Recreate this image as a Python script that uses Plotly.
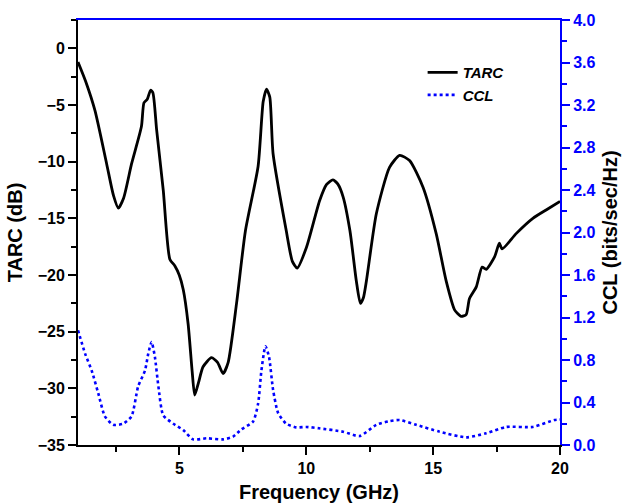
import plotly.graph_objects as go

# ---- data ----
tarc_freq = [1.0, 1.3, 1.67, 2.13, 2.4, 2.59, 2.8, 3.11, 3.5, 3.6, 3.73, 3.86, 3.95, 4.1, 4.36,
             4.62, 4.82, 4.99, 5.15, 5.34, 5.5, 5.6, 5.75, 5.93, 6.26, 6.5, 6.72, 6.92, 7.25,
             7.6, 8.1, 8.3, 8.43, 8.56, 8.69, 9.21, 9.45, 9.64, 10.0, 10.53, 10.8, 11.05, 11.25,
             11.45, 11.72, 11.97, 12.13, 12.25, 12.37, 12.76, 13.28, 13.68, 14.07, 14.6, 15.12,
             15.51, 15.85, 16.1, 16.3, 16.43, 16.7, 16.93, 17.09, 17.42, 17.61, 17.72, 18.27,
             18.93, 19.5, 20.0]
tarc_db = [-1.2, -2.9, -5.5, -10.2, -13.0, -14.1, -13.2, -10.2, -6.9, -4.8, -4.5, -3.7, -3.9,
           -7.2, -12.5, -18.6, -19.2, -20.0, -21.3, -24.3, -28.5, -30.6, -29.5, -28.1, -27.3,
           -27.7, -28.7, -27.7, -22.5, -16.1, -10.4, -4.7, -3.6, -4.3, -9.3, -16.1, -18.8, -19.4,
           -17.6, -13.4, -12.0, -11.6, -12.0, -13.1, -16.1, -20.5, -22.5, -22.0, -20.5, -14.6,
           -10.5, -9.45, -9.9, -12.25, -16.35, -20.5, -23.1, -23.65, -23.5, -22.1, -21.05, -19.3,
           -19.5, -18.4, -17.2, -17.7, -16.35, -15.0, -14.2, -13.5]

ccl_freq = [1.0, 1.28, 1.54, 1.8, 2.06, 2.39, 2.78, 3.11, 3.37, 3.64, 3.77, 3.9, 4.03, 4.17,
            4.36, 4.76, 5.15, 5.54, 6.07, 6.72, 7.11, 7.44, 7.9, 8.1, 8.23, 8.39, 8.53, 8.69,
            8.89, 9.21, 9.6, 10.0, 10.5, 11.45, 12.1, 12.76, 13.28, 13.68, 14.33, 15.25, 16.3,
            17.09, 17.88, 18.93, 19.78, 20.0]
ccl_val = [1.08, 0.86, 0.70, 0.485, 0.27, 0.19, 0.20, 0.27, 0.55, 0.70, 0.86, 0.97, 0.83, 0.55,
           0.28, 0.20, 0.14, 0.053, 0.063, 0.053, 0.078, 0.147, 0.22, 0.39, 0.70, 0.93, 0.83,
           0.52, 0.30, 0.20, 0.166, 0.17, 0.157, 0.125, 0.084, 0.19, 0.225, 0.235, 0.19, 0.125,
           0.072, 0.11, 0.17, 0.17, 0.235, 0.24]

FONT = "Liberation Sans, Arial, sans-serif"
BLUE = "#0000FF"

fig = go.Figure()
fig.add_trace(go.Scatter(x=tarc_freq, y=tarc_db, name="TARC", mode="lines",
                         line=dict(color="black", width=2.8, shape="spline", smoothing=0.6)))
fig.add_trace(go.Scatter(x=ccl_freq, y=ccl_val, name="CCL", mode="lines", yaxis="y2",
                         line=dict(color=BLUE, width=2.6, dash="dot", shape="spline", smoothing=0.6)))

tickfont = dict(family=FONT, size=16, color="black", weight="bold")
titlefont = dict(family=FONT, size=20, color="black", weight="bold")

fig.update_layout(
    width=624, height=503,
    margin=dict(l=78, r=64, t=20, b=58, autoexpand=False),
    paper_bgcolor="white", plot_bgcolor="white",
    showlegend=True,
    legend=dict(x=0.715, y=0.915, xanchor="left", yanchor="top",
                bgcolor="rgba(0,0,0,0)",
                font=dict(family=FONT, size=15, color="black", weight="bold", style="italic")),
    xaxis=dict(range=[1, 20], tick0=0, dtick=5, ticks="outside", ticklen=8, tickwidth=2,
               tickcolor="black", showline=True, linecolor="black", linewidth=2,
               showgrid=False, zeroline=False, tickfont=tickfont, automargin=False,
               minor=dict(dtick=2.5, tick0=0, ticks="outside", ticklen=5, tickwidth=2,
                          tickcolor="black"),
               title=dict(text="Frequency (GHz)", font=titlefont, standoff=12)),
    xaxis2=dict(overlaying="x", side="top", range=[1, 20], showline=True, linecolor=BLUE,
                linewidth=2, showticklabels=False, ticks="", showgrid=False, zeroline=False,
                automargin=False),
    yaxis=dict(range=[-35, 2.5], tick0=-35, dtick=5, ticks="outside", ticklen=8, tickwidth=2,
               tickcolor="black", showline=True, linecolor="black", linewidth=2,
               showgrid=False, zeroline=False, tickfont=tickfont, automargin=False,
               minor=dict(dtick=2.5, tick0=-35, ticks="outside", ticklen=5, tickwidth=2,
                          tickcolor="black"),
               title=dict(text="TARC (dB)", font=titlefont, standoff=10)),
    yaxis2=dict(range=[0, 4], tick0=0, dtick=0.4, tickformat=".1f", overlaying="y", side="right",
                ticks="outside", ticklen=8, tickwidth=2, tickcolor=BLUE, showline=True,
                linecolor=BLUE, linewidth=2, showgrid=False, zeroline=False, automargin=False,
                tickfont=dict(family=FONT, size=16, color=BLUE, weight="bold"),
                minor=dict(dtick=0.2, tick0=0, ticks="outside", ticklen=5, tickwidth=2,
                           tickcolor=BLUE),
                title=dict(text="CCL (bits/sec/Hz)", font=titlefont, standoff=8)),
)
# invisible helper trace so the blue top frame axis is drawn
fig.add_trace(go.Scatter(x=[tarc_freq[0]], y=[tarc_db[0]], xaxis="x2", mode="markers",
                         marker=dict(opacity=0), showlegend=False, hoverinfo="skip"))

fig.write_html("out.html")
